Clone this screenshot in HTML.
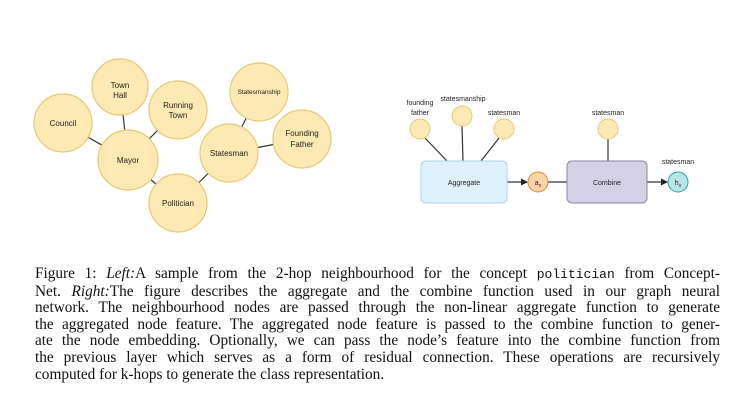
<!DOCTYPE html>
<html><head><meta charset="utf-8"><style>
body{margin:0;width:755px;height:404px;background:#fff;overflow:hidden;position:relative}
svg{position:absolute;left:0;top:0}
.cap{position:absolute;left:35px;width:685px;top:266px;font-family:"Liberation Serif",serif;font-size:15.3px;line-height:16.6px;color:#111}
.cap div{text-align:justify;text-align-last:justify;white-space:nowrap}
.cap div.last{text-align-last:left}
.m{font-family:"Liberation Mono",monospace;font-size:13px}
</style></head><body>
<svg width="755" height="404" font-family="Liberation Sans, sans-serif" font-size="8" text-anchor="middle" fill="#222">
<g stroke="#333" stroke-width="1.2">
<line x1="63" y1="123" x2="128" y2="160"/><line x1="120" y1="87" x2="128" y2="160"/>
<line x1="178" y1="110" x2="128" y2="160"/><line x1="128" y1="160" x2="178" y2="203"/>
<line x1="178" y1="203" x2="229" y2="153"/><line x1="229" y1="153" x2="259" y2="92"/>
<line x1="229" y1="153" x2="302" y2="139"/>
</g>
<g fill="#fde9b3" stroke="#e8c873" stroke-width="1.2">
<circle cx="63" cy="123" r="29"/><circle cx="120" cy="87" r="28"/><circle cx="178" cy="110" r="29"/>
<circle cx="128" cy="160" r="30"/><circle cx="178" cy="203" r="29"/><circle cx="229" cy="153" r="29"/>
<circle cx="259" cy="92" r="29"/><circle cx="302" cy="139" r="29"/>
</g>
<text x="63" y="126">Council</text>
<text x="120" y="88">Town</text><text x="120" y="98">Hall</text>
<text x="178" y="108">Running</text><text x="178" y="118">Town</text>
<text x="128" y="163">Mayor</text><text x="178" y="206">Politician</text>
<text x="229" y="156">Statesman</text><text x="259" y="94" font-size="6.5">Statesmanship</text>
<text x="302" y="136">Founding</text><text x="302" y="147">Father</text>

<g stroke="#333" stroke-width="1.2" fill="none">
<line x1="425" y1="138" x2="447" y2="161"/><line x1="462" y1="126" x2="463" y2="161"/>
<line x1="499" y1="138" x2="481" y2="161"/><line x1="608" y1="139" x2="608" y2="161"/>
<line x1="507" y1="182" x2="524" y2="182"/><line x1="548" y1="182" x2="567" y2="182"/>
<line x1="647" y1="182" x2="664" y2="182"/>
</g>
<polygon points="528,182 521,178.5 521,185.5" fill="#222"/>
<polygon points="668,182 661,178.5 661,185.5" fill="#222"/>
<g fill="#fde9b3" stroke="#e8c873" stroke-width="1">
<circle cx="420" cy="129" r="10"/><circle cx="462" cy="116" r="10"/><circle cx="504" cy="129" r="10"/><circle cx="608" cy="129" r="10"/>
</g>
<rect x="421" y="161" width="86" height="42" rx="5" fill="#dff1fb" stroke="#a9d2ec"/>
<rect x="567" y="161" width="80" height="42" rx="5" fill="#d4d0e6" stroke="#8c84ac"/>
<circle cx="538" cy="182" r="10" fill="#fbd3a8" stroke="#e08b2e"/>
<circle cx="678" cy="182" r="10" fill="#b7e6e6" stroke="#2c9fa0"/>
<g font-size="7">
<text x="464" y="185">Aggregate</text><text x="607" y="185">Combine</text>
<text x="538" y="185">a<tspan font-size="5" dy="2">v</tspan></text>
<text x="678" y="185">h<tspan font-size="5" dy="2">v</tspan></text>
<text x="420" y="105">founding</text><text x="420" y="115">father</text>
<text x="463" y="101">statesmanship</text><text x="504" y="115">statesman</text>
<text x="608" y="115">statesman</text><text x="678" y="164">statesman</text>
</g>
</svg>
<div class="cap">
<div>Figure 1: <i>Left:</i>A sample from the 2-hop neighbourhood for the concept <span class="m">politician</span> from Concept-</div>
<div>Net. <i>Right:</i>The figure describes the aggregate and the combine function used in our graph neural</div>
<div>network. The neighbourhood nodes are passed through the non-linear aggregate function to generate</div>
<div>the aggregated node feature. The aggregated node feature is passed to the combine function to gener-</div>
<div>ate the node embedding. Optionally, we can pass the node’s feature into the combine function from</div>
<div>the previous layer which serves as a form of residual connection. These operations are recursively</div>
<div class="last">computed for k-hops to generate the class representation.</div>
</div>
</body></html>
